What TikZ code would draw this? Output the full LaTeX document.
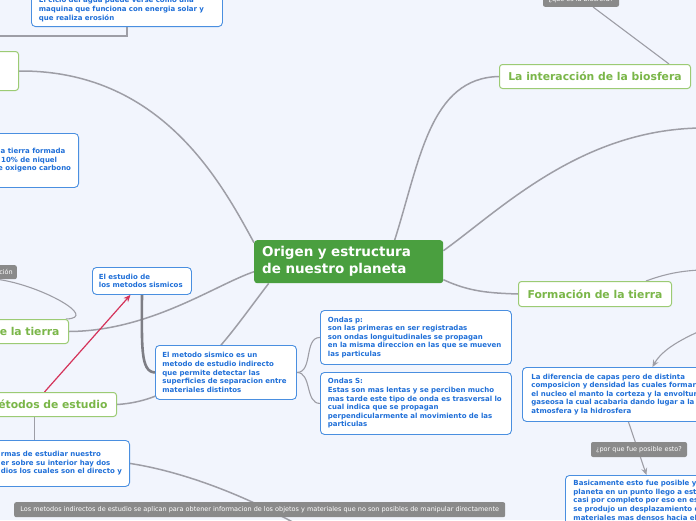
\documentclass[tikz,border=0pt]{standalone}
\usepackage{fontspec}
\setmainfont{DejaVu Sans}
\usetikzlibrary{arrows.meta,calc}
\definecolor{paper}{HTML}{F2F5FD}
\definecolor{maingreen}{HTML}{4A9F3F}
\definecolor{branchline}{HTML}{9CCB74}
\definecolor{branchtext}{HTML}{7AB648}
\definecolor{leafline}{HTML}{4A8FE0}
\definecolor{leaftext}{HTML}{1F6FD8}
\definecolor{taggray}{HTML}{8A8A8A}
\definecolor{linkgray}{HTML}{9E9EA6}
\definecolor{hintred}{HTML}{D4335A}
\pgfdeclarelayer{background}
\pgfsetlayers{background,main}
\tikzstyle{centre} = [
    fill=maingreen,
    text=white,
    font=\bfseries\fontsize{13.5}{17}\selectfont,
    rounded corners=3pt,
    align=left,
    inner xsep=8pt,
    inner ysep=0pt
    ]
\tikzstyle{topic} = [
    draw=branchline,
    fill=white,
    text=branchtext,
    line width=1pt,
    rounded corners=3pt,
    font=\bfseries\fontsize{10.8}{13}\selectfont,
    minimum height=24pt,
    inner xsep=8pt,
    inner ysep=0pt
    ]
\tikzstyle{leaf} = [
    draw=leafline,
    fill=white,
    text=leaftext,
    line width=0.9pt,
    rounded corners=4pt,
    font=\bfseries\fontsize{7}{8.6}\selectfont,
    align=left,
    inner xsep=7.5pt,
    inner ysep=5pt
    ]
\tikzstyle{tag} = [
    fill=taggray,
    text=white,
    rounded corners=2pt,
    font=\fontsize{6.5}{7.5}\selectfont,
    inner xsep=4pt,
    inner ysep=0pt,
    minimum height=15pt
    ]
\tikzstyle{link} = [draw=linkgray, line width=1.5pt]
\tikzstyle{thinlink} = [draw=linkgray, line width=1.1pt]
\tikzstyle{pointer} = [draw=linkgray, line width=1.1pt, -{Stealth[length=7pt,width=6pt]}]
\tikzstyle{hint} = [draw=hintred, line width=1.2pt, -{Stealth[length=7pt,width=6pt]}]

\begin{document}
\begin{tikzpicture}[x=1pt,y=-1pt]
\useasboundingbox (0,0) rectangle (696,520);
\clip (0,0) rectangle (696,520);

% main topic and branches
\node [centre, anchor=north west, text width=173pt, minimum height=43pt] (origen) at (254,240) {Origen y estructura\\de nuestro planeta};
\node [topic, anchor=north west, minimum width=191pt] (interaccion) at (499,64) {La interacción de la biosfera};
\node [topic, anchor=north west, minimum width=153pt, minimum height=25pt] (formacion) at (518,281) {Formación de la tierra};
\node [topic, anchor=north east, minimum width=80pt, minimum height=39pt] (tema) at (19,51) {};
\node [topic, anchor=north east, text width=120pt, align=right, inner xsep=9pt] (tierra) at (69,319) {de la tierra};
\node [topic, anchor=north east, text width=120pt, align=right, inner xsep=9pt] (metodos) at (117,392) {Métodos de estudio};

% leaves
\node [leaf, anchor=south west, text width=176pt] (agua) at (31,27) {El ciclo del agua puede verse como una\\maquina que funciona con energia solar y\\que realiza erosión};
\node [leaf, anchor=north east, minimum height=54pt] (nucleo) at (79,133) {la tierra formada\\\hspace*{3pt}10\% de niquel\\e oxigeno carbono};
\node [leaf, anchor=north west, text width=86pt, inner xsep=6.5pt, minimum height=27pt] (estudio) at (92,267) {El estudio de\\los metodos sismicos};
\node [leaf, anchor=north west, text width=127pt, inner xsep=7pt, minimum height=54pt] (sismico) at (155,345) {El metodo sismico es un\\metodo de estudio indirecto\\que permite detectar las\\superficies de separacion entre\\materiales distintos};
\node [leaf, anchor=north west, text width=176pt, minimum height=54pt] (ondasp) at (320,310) {Ondas p:\\son las primeras en ser registradas\\son ondas longuitudinales se propagan\\en la misma direccion en las que se mueven\\las particulas};
\node [leaf, anchor=north west, text width=176pt, minimum height=62pt] (ondass) at (320,372) {Ondas S:\\Estas son mas lentas y se perciben mucho\\mas tarde este tipo de onda es trasversal lo\\cual indica que se propagan\\perpendicularmente al movimiento de las\\particulas};
\node [leaf, anchor=north east, minimum height=46pt] (medios) at (130,440) {rmas de estudiar nuestro\\er sobre su interior hay dos\\dios los cuales son el directo y};
\node [leaf, anchor=north west, text width=230pt, inner xsep=9pt, minimum height=54pt] (difer) at (522,367) {La diferencia de capas pero de distinta\\composicion y densidad las cuales formaron\\el nucleo el manto la corteza y la envoltura\\gaseosa la cual acabaria dando lugar a la\\atmosfera y la hidrosfera};
\node [leaf, anchor=north west, text width=230pt, inner xsep=8pt] (basica) at (565,475) {Basicamente esto fue posible ya\\planeta en un punto llego a estar\\casi por completo por eso en este\\se produjo un desplazamiento de\\materiales mas densos hacia el};

% grey notes
\node [tag, anchor=south, minimum width=76pt, minimum height=15pt] (biosfera) at (581,7) {¿que es la biosfera?};
\node [tag, anchor=north east, text width=30pt, align=right, minimum height=14pt] (cion) at (17,265) {ción};
\node [tag, minimum width=96pt] (posible) at (639,449.5) {¿por que fue posible esto?};
\node [tag, anchor=north west, minimum width=491pt] (indirectos) at (14,502) {Los metodos indirectos de estudio se aplican para obtener informacion de los objetos y materiales que no son posibles de manipular directamente};

\coordinate (aguaroot) at (-10,36);
\coordinate (derecha) at (700,128);
\coordinate (formroot) at (700,270);
\coordinate (capasroot) at (700,331);
\coordinate (medroot) at (300,526);
\coordinate (bajada) at ([xshift=-13pt]metodos.south);

\begin{pgfonlayer}{background}
\clip (0,0) rectangle (696,520);
\fill [paper] (0,0) rectangle (696,520);
\draw [link, line width=2pt] (aguaroot) -| (agua.south);
\draw [link] (tema.east) .. controls (160,70) and (220,180) .. ([yshift=19pt]origen.west);
\draw [link] ([xshift=46pt]origen.north) .. controls (420,160) and (430,78) .. (interaccion.west);
\draw [thinlink] ([xshift=12pt]biosfera.south) -- ([xshift=-22pt]interaccion.north east);
\draw [link] ([yshift=11pt]origen.east) .. controls (500,210) and (580,130) .. (derecha);
\draw [link] ([yshift=-18pt]origen.east) .. controls (470,292) and (490,293) .. (formacion.west);
\draw [thinlink] ([xshift=-26pt]formacion.north east) .. controls (665,274) and (680,271) .. (formroot);
\draw [pointer] (capasroot) .. controls (680,340) and (662,350) .. ([xshift=6pt]difer.north);
\draw [pointer] ([xshift=-18pt]difer.south) -- ([xshift=-42pt]basica.north);
\draw [link] ([yshift=-10pt]origen.west) .. controls (215,285) and (150,331) .. (tierra.east);
\draw [thinlink] (cion.south) .. controls (40,285) and (100,318) .. ([xshift=-3pt]tierra.north east);
\draw [link] ([xshift=-80pt]origen.south) .. controls (225,340) and (190,400) .. (metodos.east);
\draw [link, line width=2.6pt, draw=linkgray!80!black] (estudio.south) .. controls (142,345) and (140,372) .. (sismico.west);
\draw [thinlink] (sismico.east) to[out=0, in=180] (ondasp.west);
\draw [thinlink] (sismico.east) to[out=0, in=180] (ondass.west);
\draw [hint] ([xshift=-3pt]metodos.north) -- ([xshift=-11.5pt]estudio.south);
\draw [link] (bajada) -- (bajada |- medios.north);
\draw [link] (medios.east) .. controls (160,468) and (220,482) .. (medroot);
\end{pgfonlayer}
\end{tikzpicture}
\end{document}
